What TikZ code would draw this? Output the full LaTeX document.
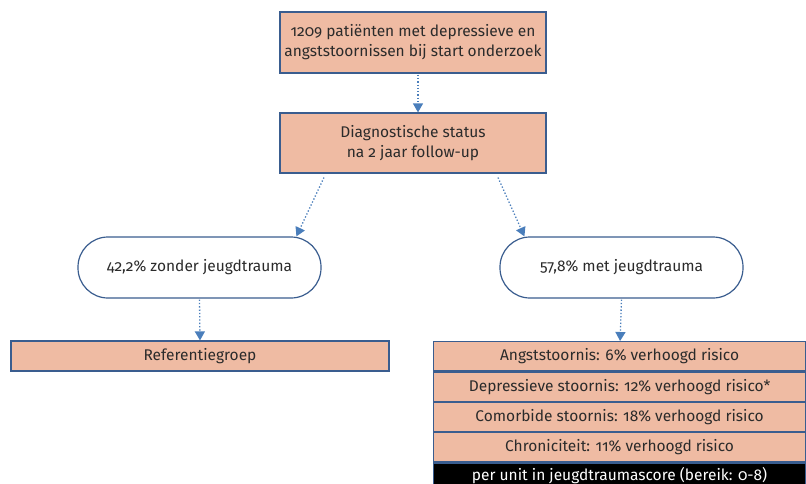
\documentclass[tikz,border=0pt]{standalone}
\usepackage{fontspec}
\setmainfont[Numbers=OldStyle]{Fira Sans}
\usetikzlibrary{arrows.meta,positioning}
\definecolor{boxfill}{HTML}{EFBBA3}
\definecolor{boxline}{HTML}{3A5D8F}
\definecolor{arrowblue}{HTML}{4A7EBB}
\definecolor{txt}{HTML}{2B2B2B}
\tikzset{
  base/.style={draw=boxline, line width=1.2pt, text=txt, font=\fontsize{15.5}{20}\selectfont, align=center, inner sep=0pt},
  salmonbox/.style={base, fill=boxfill, rectangle},
  stadium/.style={base, fill=white, rectangle, rounded corners=30pt, minimum width=243pt, minimum height=61pt},
  rowbox/.style={salmonbox, minimum width=372pt, minimum height=29.2pt},
  flowarrow/.style={draw=arrowblue, line width=1.3pt, dotted, -{Triangle[width=10pt,length=9pt]}, shorten <=1pt}
}
\begin{document}
\begin{tikzpicture}[x=1pt,y=-1pt]
\useasboundingbox (0,0) rectangle (806,483);
\begin{scope}
\clip (0,0) rectangle (806,483);
\node[salmonbox, minimum width=266pt, minimum height=61pt] (top) at (413,42.5) {1209 patiënten met depressieve en\\angststoornissen bij start onderzoek};
\node[salmonbox, minimum width=266pt, minimum height=60pt] (mid) at (413,143) {Diagnostische status\\na 2 jaar follow-up};
\node[stadium] (lstad) at (199.5,267.5) {42,2\% zonder jeugdtrauma};
\node[stadium] (rstad) at (621.5,267.5) {57,8\% met jeugdtrauma};
\node[salmonbox, minimum width=378pt, minimum height=30pt] (ref) at (200,356) {Referentiegroep};
\node[rowbox, anchor=north west] (r1) at (433,341) {Angststoornis: 6\% verhoogd risico};
\node[rowbox, below=0pt of r1] (r2) {Depressieve stoornis: 12\% verhoogd risico*};
\node[rowbox, below=0pt of r2] (r3) {Comorbide stoornis: 18\% verhoogd risico};
\node[rowbox, below=0pt of r3] (r4) {Chroniciteit: 11\% verhoogd risico};
\node[base, fill=black, text=white, minimum width=372pt, minimum height=24pt, below=0pt of r4] (r5) {per unit in jeugdtraumascore (bereik: 0-8)};
\draw[flowarrow] ([xshift=5pt]top.south) -- ([xshift=5pt]mid.north);
\draw[flowarrow] ([xshift=45pt,yshift=-3pt]mid.south west) -- ([xshift=219pt]lstad.north west);
\draw[flowarrow] ([xshift=-49pt,yshift=-3pt]mid.south east) -- ([xshift=25pt]rstad.north west);
\draw[flowarrow] (lstad.south) -- (ref.north);
\draw[flowarrow] (rstad.south) -- ([xshift=0.5pt]r1.north);
\end{scope}
\end{tikzpicture}
\end{document}
